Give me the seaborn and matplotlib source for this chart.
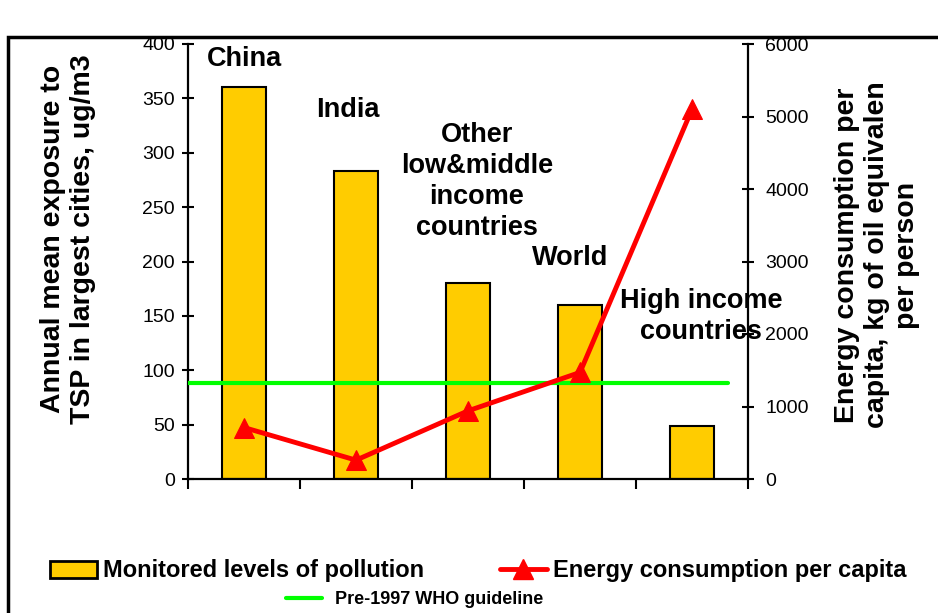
import matplotlib
matplotlib.use('Agg')
import matplotlib.pyplot as plt
import numpy as np
import seaborn as sns
from matplotlib.patches import Patch, Rectangle
from matplotlib.lines import Line2D

# data
groups = ['China', 'India', 'Other\nlow&middle\nincome\ncountries', 'World', 'High income\ncountries']
pollution = [360, 283, 180, 160, 49]          # ug/m3, left axis
energy = [710, 260, 940, 1470, 5100]          # kg oil eq. per person, right axis
who_guideline = 88

# where the group names sit (data coords of the left axis)
label_x = [0.0, 0.93, 2.08, 2.91, 4.08]
label_y = [386, 339, 274, 203, 149]

sns.set_style('white')
plt.rcParams['font.family'] = ['Liberation Sans', 'DejaVu Sans']
plt.rcParams.update({'text.color': 'black', 'axes.labelcolor': 'black',
                     'xtick.color': 'black', 'ytick.color': 'black'})

fig = plt.figure(figsize=(9.38, 6.13), dpi=100)
ax = fig.add_axes([188/938, 1-479/613, 560/938, 435/613])

sns.barplot(x=groups, y=pollution, color='#FFCC00', saturation=1, width=0.4,
            edgecolor='black', linewidth=1.5, ax=ax)
ax.axhline(who_guideline, xmin=0, xmax=540/560, color='#00FF00', lw=3, zorder=3)

ax2 = ax.twinx()
sns.lineplot(x=np.arange(len(groups)), y=energy, ax=ax2, color='#FF0000', lw=3.5,
             marker='^', markersize=15, markeredgecolor='#FF0000')

ax.set_xlim(-0.5, 4.5)
ax.set_ylim(0, 400)
ax2.set_ylim(0, 6000)
ax.set_yticks(range(0, 401, 50))
ax2.set_yticks(range(0, 6001, 1000))
ax.set_xticks(np.arange(-0.5, 5, 1))
ax.set_xticklabels([])
ax.set_xlabel('')
ax.set_ylabel('')
ax2.set_ylabel('')

for s in ['top', 'right']:
    ax.spines[s].set_visible(False)
for s in ['top', 'left', 'bottom']:
    ax2.spines[s].set_visible(False)
for a, side in [(ax, 'left'), (ax, 'bottom'), (ax2, 'right')]:
    a.spines[side].set_linewidth(1.6)
    a.spines[side].set_color('black')

ax.tick_params(axis='y', direction='inout', length=9, width=1.5, labelsize=14, pad=5, left=True)
ax.tick_params(axis='x', direction='out', length=7, width=1.5, bottom=True)
ax2.tick_params(axis='y', direction='inout', length=9, width=1.5, labelsize=14, pad=8, right=True)

for name, x, y in zip(groups, label_x, label_y):
    ax.text(x, y, name, ha='center', va='center', fontsize=19.5, fontweight='bold',
            linespacing=1.25, zorder=5)

fig.text(68/938, 1-239/613, 'Annual mean exposure to\nTSP in largest cities, ug/m3',
         rotation=90, ha='center', va='center', fontsize=20.5, fontweight='bold',
         multialignment='center')
fig.text(877/938, 1-255/613, 'Energy consumption per\ncapita, kg of oil equivalen\nper person',
         rotation=90, ha='center', va='center', fontsize=20.5, fontweight='bold',
         multialignment='center')

h1 = [Patch(facecolor='#FFCC00', edgecolor='black', linewidth=2),
      Line2D([], [], color='#FF0000', lw=3.5, marker='^', markersize=15)]
fig.legend(h1, ['Monitored levels of pollution', 'Energy consumption per capita'],
           loc='center left', bbox_to_anchor=(50/938, 1-571/613), ncol=2, frameon=False,
           borderpad=0, borderaxespad=0, handlelength=2.0, handletextpad=0.25,
           columnspacing=3.2, prop={'weight': 'bold', 'size': 17})
h2 = [Line2D([], [], color='#00FF00', lw=3)]
fig.legend(h2, ['Pre-1997 WHO guideline'], loc='center left',
           bbox_to_anchor=(286/938, 1-600/613), frameon=False, borderpad=0,
           borderaxespad=0, handlelength=2.0, handletextpad=0.7,
           prop={'weight': 'bold', 'size': 13})

fig.patches.append(Rectangle((8/938, -0.1), 1.2, 1-37/613+0.1, transform=fig.transFigure,
                             fill=False, edgecolor='black', lw=2.5))

fig.savefig('out.png', dpi=100)
